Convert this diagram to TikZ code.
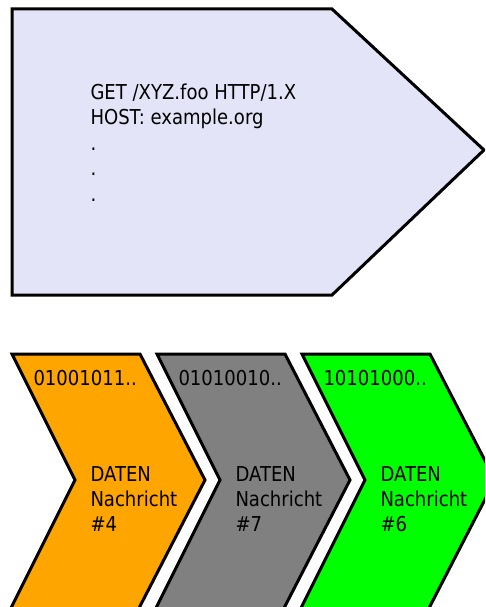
\documentclass[tikz,border=0pt]{standalone}
\usepackage{fontspec}
\setmainfont{DejaVu Sans}[FakeStretch=0.88]
\definecolor{request}{RGB}{228,228,248}
\definecolor{msgorange}{RGB}{255,165,0}
\definecolor{msggray}{RGB}{128,128,128}
\definecolor{msggreen}{RGB}{0,255,0}
\begin{document}
\begin{tikzpicture}[x=1pt,y=-1pt,line width=3pt,line join=miter,
  txt/.style={anchor=base west,inner sep=0pt,font=\fontsize{20.5}{24}\selectfont}]
\useasboundingbox (0,0) rectangle (485,607);
\clip (0,0) rectangle (485,607);
% request arrow
\draw[fill=request] (12,9) -- (332,9) -- (484,150) -- (332,295) -- (12,295) -- cycle;
\node[txt] (get)  at (89,99.5)  {GET /XYZ.foo HTTP/1.X};
\node[txt] (host) at (89,124.5) {HOST: example.org};
\node[txt] (dot1) at (89,150)   {.};
\node[txt] (dot2) at (89,175.5) {.};
\node[txt] (dot3) at (89,201)   {.};
% data chevrons
\foreach \x/\col/\bits/\num in {12/msgorange/01001011/4,157/msggray/01010010/7,302/msggreen/10101000/6}{
  \draw[fill=\col] (\x,354) -- (\x+128,354) -- (\x+193,480) -- (\x+125,612)
    -- (\x-3,612) -- (\x+63,480) -- cycle;
  \node[txt] (bits\num) at (\x+20,385) {\bits..};
  \node[txt] (daten\num) at (\x+77,481.5) {DATEN};
  \node[txt] (nachricht\num) at (\x+77,506.5) {Nachricht};
  \node[txt] (nr\num) at (\x+77,531.5) {\#\num};
}
\end{tikzpicture}
\end{document}
